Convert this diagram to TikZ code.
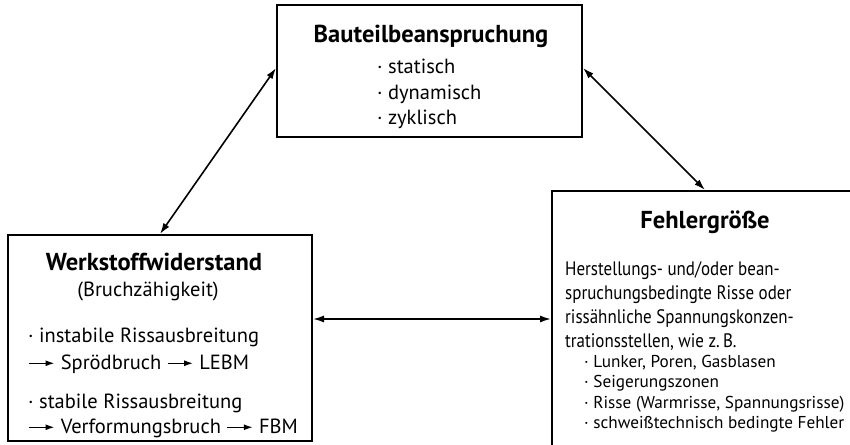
\documentclass[tikz,border=0pt]{standalone}
\usepackage{fontspec}
\setmainfont{PT Sans}
\newfontfamily\condfont[FakeStretch=0.87]{PT Sans}
\usetikzlibrary{arrows.meta,calc}
\newcommand\txtarrow{\tikz[baseline={(0pt,-0.28em)}]\draw[line width=1.5pt,-{Latex[length=9pt,width=6pt]}] (0pt,0pt) -- (1.25em,0pt);}
\tikzset{
  box/.style={draw, line width=2pt, rectangle, inner sep=0pt},
  conn/.style={line width=1.6pt, {Latex[length=11pt,width=7pt]}-{Latex[length=11pt,width=7pt]}},
  ttl/.style={font=\fontsize{24.5}{28}\selectfont\bfseries, inner sep=0pt, anchor=base},
  body/.style={font=\fontsize{20.5}{25}\selectfont, inner sep=0pt, anchor=base west},
  para/.style={font=\condfont\fontsize{19.5}{24}\selectfont, inner sep=0pt, anchor=base west},
  small/.style={font=\fontsize{17.2}{20}\selectfont, inner sep=0pt, anchor=base west},
}
\begin{document}
\begin{tikzpicture}[x=1pt,y=-1pt]
\useasboundingbox (0,0) rectangle (850,444);
% boxes
\node[box, minimum width=305pt, minimum height=132pt] (top) at (429.5,71) {};
\node[box, minimum width=304pt, minimum height=206pt] (left) at (160,338) {};
\node[box, minimum width=306pt, minimum height=272pt] (right) at (705,327) {};
% top text
\node[ttl] (toptitle) at (431,43) {Bauteilbeanspruchung};
\node[body] (t1) at (377,74) {· statisch};
\node[body] (t2) at (377,99) {· dynamisch};
\node[body] (t3) at (377,124) {· zyklisch};
% left text
\node[ttl] (lefttitle) at (154,270) {Werkstoffwiderstand};
\node[body, anchor=base] (leftsub) at (148,296) {(Bruchzähigkeit)};
\node[body] (l1) at (28,342) {· instabile Rissausbreitung};
\node[body] (l2) at (28,369) {\txtarrow\ Sprödbruch \txtarrow\ LEBM};
\node[body] (l3) at (28,408) {· stabile Rissausbreitung};
\node[body] (l4) at (28,433) {\txtarrow\ Verformungsbruch \txtarrow\ FBM};
% right text
\node[ttl] (righttitle) at (705,228) {Fehlergröße};
\node[para] (p1) at (565,275) {Herstellungs- und/oder bean-};
\node[para] (p2) at (565,299) {spruchungsbedingte Risse oder};
\node[para] (p3) at (565,323) {rissähnliche Spannungskonzen-};
\node[para] (p4) at (565,347) {trationsstellen, wie z.\,B.};
\node[small] (r1) at (584,367) {· Lunker, Poren, Gasblasen};
\node[small] (r2) at (584,387) {· Seigerungszonen};
\node[small] (r3) at (584,408) {· Risse (Warmrisse, Spannungsrisse)};
\node[small] (r4) at (584,428) {· schweißtechnisch bedingte Fehler};
% connectors
\draw[conn] (left.north) -- ([yshift=3pt]top.west);
\draw[conn] ([yshift=3pt]top.east) -- (right.north);
\draw[conn] ([yshift=19pt]left.east) -- ([yshift=19pt]left.east -| right.west);
\end{tikzpicture}
\end{document}
